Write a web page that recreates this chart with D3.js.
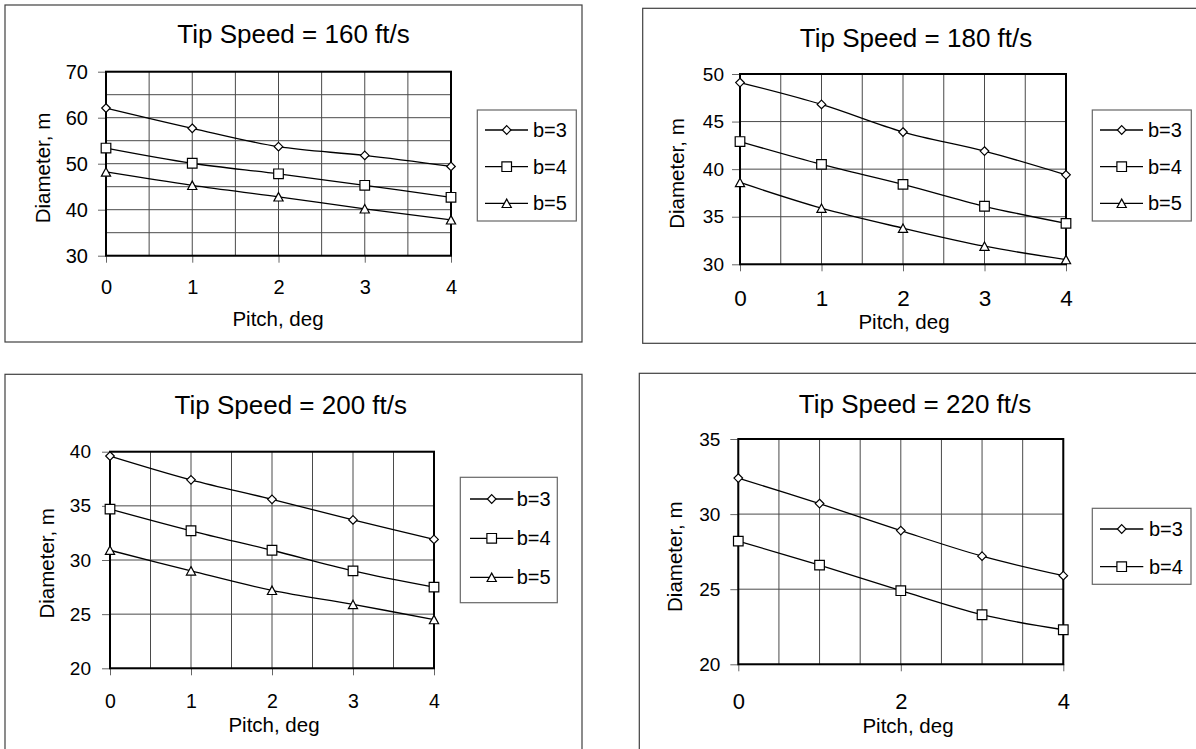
<!DOCTYPE html>
<html>
<head>
<meta charset="utf-8">
<script src="https://cdn.jsdelivr.net/npm/d3@7"></script>
<style>
  html, body { margin: 0; padding: 0; background: #fff; }
  svg { display: block; font-family: "Liberation Sans", Arial, sans-serif; }
</style>
</head>
<body>
<svg id="chart" width="1196" height="749"></svg>
<script>
// ---------------- data ----------------
const pitch = [0, 1, 2, 3, 4];
const seriesNames = ["b=3", "b=4", "b=5"];
const titles = ["Tip Speed = 160 ft/s", "Tip Speed = 180 ft/s", "Tip Speed = 200 ft/s", "Tip Speed = 220 ft/s"];
const xTitle = "Pitch, deg";
const yTitle = "Diameter, m";

// Tip speed 160 ft/s
const d160b3 = [62.1, 57.7, 53.7, 51.8, 49.4];
const d160b4 = [53.4, 50.1, 47.8, 45.3, 42.7];
const d160b5 = [48.2, 45.3, 42.8, 40.2, 37.8];
// Tip speed 180 ft/s
const d180b3 = [49.1, 46.8, 43.9, 41.9, 39.4];
const d180b4 = [42.9, 40.5, 38.4, 36.1, 34.3];
const d180b5 = [38.6, 35.9, 33.8, 31.9, 30.5];
// Tip speed 200 ft/s
const d200b3 = [39.6, 37.4, 35.6, 33.7, 31.9];
const d200b4 = [34.7, 32.7, 30.9, 29.0, 27.5];
const d200b5 = [30.9, 29.0, 27.2, 25.9, 24.5];
// Tip speed 220 ft/s
const d220b3 = [32.4, 30.7, 28.9, 27.2, 25.9];
const d220b4 = [28.2, 26.6, 24.9, 23.3, 22.3];

// axis tick labels and grid values
const xLabels = [0, 1, 2, 3, 4];
const xLabels220 = [0, 2, 4];
const xGrid = [0, 0.5, 1, 1.5, 2, 2.5, 3, 3.5, 4];
const yLabels160 = [30, 40, 50, 60, 70];
const yGrid160 = [30, 35, 40, 45, 50, 55, 60, 65, 70];
const yLabels180 = [30, 35, 40, 45, 50];
const yLabels200 = [20, 25, 30, 35, 40];
const yLabels220 = [20, 25, 30, 35];

// ---------------- layout (positions/styles only) ----------------
const panels = [
  { title: titles[0], series: [d160b3, d160b4, d160b5], yDomain: [30, 70], yLabels: yLabels160, yGrid: yGrid160, xLabels: xLabels,
    frame: [5, 5, 582, 342], plot: [106, 71.7, 451, 255.7],
    titleX: 293.5, titleY: 43, yLabPad: 10, yLabSize: 20, xLabBase: 38.3, xLabSize: 20,
    xTitleX: 278, xTitleY: 326, yTitleX: 43, yTitleY: 168,
    legend: [477.3, 110, 576.3, 221], legRows: [130, 166.7, 203.3], legLine: [485, 528], legMark: 506.7, legText: 533 },
  { title: titles[1], series: [d180b3, d180b4, d180b5], yDomain: [30, 50], yLabels: yLabels180, yGrid: yLabels180, xLabels: xLabels,
    frame: [642.7, 8.3, 1210, 343.3], plot: [740, 74, 1066, 264.3],
    titleX: 916, titleY: 46.7, yLabPad: 8, yLabSize: 19, xLabBase: 41.7, xLabSize: 22.5,
    xTitleX: 904, xTitleY: 329, yTitleX: 677, yTitleY: 173.5,
    legend: [1092.3, 110, 1191.3, 221], legRows: [130, 166.7, 203.3], legLine: [1100, 1143], legMark: 1121.7, legText: 1148 },
  { title: titles[2], series: [d200b3, d200b4, d200b5], yDomain: [20, 40], yLabels: yLabels200, yGrid: yLabels200, xLabels: xLabels,
    frame: [5, 374.3, 582, 760], plot: [110, 451.7, 434, 668.3],
    titleX: 290.8, titleY: 414, yLabPad: 11, yLabSize: 19, xLabBase: 40, xLabSize: 19.5,
    xTitleX: 274, xTitleY: 731.7, yTitleX: 46.7, yTitleY: 563.3,
    legend: [460.3, 477.3, 557.3, 602.7], legRows: [499, 538.3, 577.3], legLine: [470, 513.3], legMark: 491.7, legText: 516.7 },
  { title: titles[3], series: [d220b3, d220b4], yDomain: [20, 35], yLabels: yLabels220, yGrid: yLabels220, xLabels: xLabels220,
    frame: [639.3, 373.3, 1210, 760], plot: [738.3, 439, 1063.3, 664.3],
    titleX: 915, titleY: 412.7, yLabPad: 10, yLabSize: 19, xLabBase: 44.5, xLabSize: 22,
    xTitleX: 908, xTitleY: 733, yTitleX: 675, yTitleY: 556.7,
    legend: [1092.3, 508.3, 1191, 584.3], legRows: [529, 566.7], legLine: [1100, 1143.3], legMark: 1121.7, legText: 1149 }
];

// marker shapes (Excel-like)
function markerPath(kind) {
  if (kind === 0) { const r = 4.3; return `M0,${-r}L${r},0L0,${r}L${-r},0Z`; }          // diamond
  if (kind === 1) { const s = 4.8; return `M${-s},${-s}H${s}V${s}H${-s}Z`; }              // square
  const w = 4.6, h = 4.2; return `M0,${-h}L${w},${h}L${-w},${h}Z`;                       // triangle
}

const svg = d3.select("#chart");

panels.forEach(p => {
  const g = svg.append("g");
  const [L, T, R, B] = p.plot;
  const x = d3.scaleLinear().domain([0, 4]).range([L, R]);
  const y = d3.scaleLinear().domain(p.yDomain).range([B, T]);

  // outer chart frame
  g.append("rect")
    .attr("x", p.frame[0]).attr("y", p.frame[1])
    .attr("width", p.frame[2] - p.frame[0]).attr("height", p.frame[3] - p.frame[1])
    .attr("fill", "#fff").attr("stroke", "#404040").attr("stroke-width", 1.2);

  // gridlines
  g.append("g").selectAll("line").data(p.yGrid).join("line")
    .attr("x1", L).attr("x2", R).attr("y1", d => y(d)).attr("y2", d => y(d))
    .attr("stroke", "#4a4a4a").attr("stroke-width", 1);
  g.append("g").selectAll("line").data(xGrid).join("line")
    .attr("y1", T).attr("y2", B).attr("x1", d => x(d)).attr("x2", d => x(d))
    .attr("stroke", "#4a4a4a").attr("stroke-width", 1);

  // axes (ticks + labels)
  const yAxis = d3.axisLeft(y).tickValues(p.yLabels).tickSize(8).tickPadding(p.yLabPad).tickFormat(d3.format("d"));
  const ya = g.append("g").attr("transform", `translate(${L},0)`).call(yAxis);
  ya.select(".domain").remove();
  ya.selectAll(".tick line").attr("stroke", "#666");
  ya.selectAll(".tick text").attr("font-size", p.yLabSize).attr("fill", "#000")
    .attr("font-family", "Liberation Sans, Arial, sans-serif");

  const xAxis = d3.axisBottom(x).tickValues(p.xLabels).tickSize(7).tickFormat(d3.format("d"));
  const xa = g.append("g").attr("transform", `translate(0,${B})`).call(xAxis);
  xa.select(".domain").remove();
  xa.selectAll(".tick line").attr("stroke", "#666");
  xa.selectAll(".tick text").attr("font-size", p.xLabSize).attr("fill", "#000")
    .attr("y", p.xLabBase).attr("dy", null)
    .attr("font-family", "Liberation Sans, Arial, sans-serif");

  // plot area border
  g.append("rect").attr("x", L).attr("y", T).attr("width", R - L).attr("height", B - T)
    .attr("fill", "none").attr("stroke", "#000").attr("stroke-width", 2);

  // series
  const line = d3.line().x((d, i) => x(pitch[i])).y(d => y(d)).curve(d3.curveCatmullRom.alpha(0));
  p.series.forEach((vals, k) => {
    g.append("path").datum(vals).attr("d", line)
      .attr("fill", "none").attr("stroke", "#000").attr("stroke-width", 1.3);
  });
  p.series.forEach((vals, k) => {
    g.append("g").selectAll("path").data(vals).join("path")
      .attr("d", markerPath(k))
      .attr("transform", (d, i) => `translate(${x(pitch[i])},${y(d)})`)
      .attr("fill", "#fff").attr("stroke", "#000").attr("stroke-width", 1.2);
  });

  // titles
  g.append("text").attr("x", p.titleX).attr("y", p.titleY).attr("text-anchor", "middle")
    .attr("font-size", 26).text(p.title);
  g.append("text").attr("x", p.xTitleX).attr("y", p.xTitleY).attr("text-anchor", "middle")
    .attr("font-size", 20.5).text(xTitle);
  g.append("text").attr("transform", `translate(${p.yTitleX},${p.yTitleY}) rotate(-90)`)
    .attr("text-anchor", "middle").attr("dy", "0.35em")
    .attr("font-size", 20.5).text(yTitle);

  // legend
  const [lx0, ly0, lx1, ly1] = p.legend;
  g.append("rect").attr("x", lx0).attr("y", ly0).attr("width", lx1 - lx0).attr("height", ly1 - ly0)
    .attr("fill", "#fff").attr("stroke", "#666").attr("stroke-width", 1.2);
  p.series.forEach((vals, k) => {
    const ry = p.legRows[k];
    g.append("line").attr("x1", p.legLine[0]).attr("x2", p.legLine[1]).attr("y1", ry).attr("y2", ry)
      .attr("stroke", "#000").attr("stroke-width", 1.3);
    g.append("path").attr("d", markerPath(k)).attr("transform", `translate(${p.legMark},${ry})`)
      .attr("fill", "#fff").attr("stroke", "#000").attr("stroke-width", 1.2);
    g.append("text").attr("x", p.legText).attr("y", ry).attr("dy", "0.35em")
      .attr("font-size", 20).text(seriesNames[k]);
  });
});
</script>
</body>
</html>
